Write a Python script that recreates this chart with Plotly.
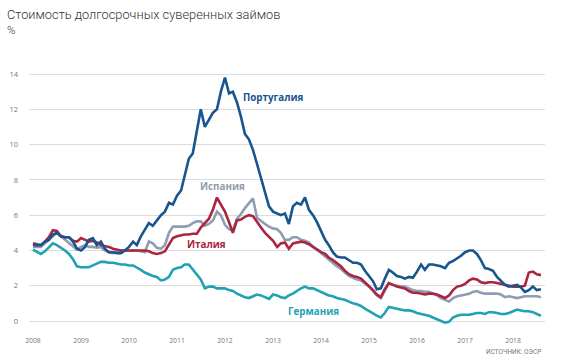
import plotly.graph_objects as go
import pandas as pd

dates = pd.date_range("2008-01-01", periods=128, freq="MS")

portugal = [
    4.3, 4.3, 4.3, 4.5, 4.6, 4.9, 5.0, 4.8, 4.75, 4.75, 4.5, 4.1,
    4.0, 4.2, 4.6, 4.7, 4.3, 4.5, 4.1, 3.9, 3.9, 3.85, 3.85, 4.0,
    4.2, 4.5, 4.3, 4.8, 5.2, 5.55, 5.4, 5.7, 6.0, 6.2, 6.7, 6.6,
    7.1, 7.4, 8.2, 9.2, 9.5, 10.8, 12.0, 11.0, 11.4, 11.8, 12.0, 13.0,
    13.8, 12.9, 13.0, 12.4, 11.6, 10.6, 10.3, 9.7, 8.9, 8.1, 7.3, 6.5,
    6.2, 6.1, 6.0, 6.1, 5.5, 6.5, 6.7, 6.6, 7.0, 6.3, 6.0, 5.6,
    5.1, 4.6, 4.3, 3.9, 3.65, 3.6, 3.6, 3.45, 3.3, 3.3, 3.2, 2.85,
    2.55, 2.25, 1.8, 1.85, 2.4, 2.9, 2.75, 2.55, 2.5, 2.4, 2.5, 2.45,
    2.8, 3.2, 2.9, 3.2, 3.2, 3.15, 3.1, 3.0, 3.3, 3.4, 3.55, 3.7,
    3.9, 4.0, 4.0, 3.8, 3.45, 3.0, 2.95, 2.85, 2.5, 2.25, 2.05, 1.95,
    2.0, 2.05, 1.9, 1.65, 1.75, 1.95, 1.75, 1.8,
]
italy = [
    4.4, 4.35, 4.3, 4.5, 4.75, 5.15, 5.1, 4.8, 4.75, 4.75, 4.55, 4.5,
    4.7, 4.6, 4.5, 4.55, 4.45, 4.3, 4.25, 4.2, 4.1, 4.05, 4.0, 4.0,
    4.0, 4.0, 4.0, 4.0, 4.0, 3.95, 3.85, 3.8, 3.85, 3.95, 4.3, 4.7,
    4.8, 4.85, 4.9, 4.9, 4.95, 4.95, 5.3, 5.55, 5.8, 6.3, 7.0, 6.6,
    6.2, 5.6, 5.0, 5.7, 5.75, 5.9, 6.0, 5.95, 5.6, 5.3, 5.0, 4.8,
    4.55, 4.2, 4.4, 4.45, 4.1, 4.4, 4.45, 4.5, 4.45, 4.35, 4.2, 4.05,
    3.9, 3.8, 3.6, 3.45, 3.3, 3.1, 2.85, 2.65, 2.55, 2.5, 2.4, 2.2,
    2.0, 1.75, 1.5, 1.35, 1.8, 2.15, 2.05, 1.95, 1.9, 1.85, 1.7, 1.6,
    1.6, 1.55, 1.5, 1.55, 1.55, 1.5, 1.4, 1.3, 1.45, 1.75, 1.95, 2.0,
    2.1, 2.3, 2.4, 2.35, 2.2, 2.15, 2.2, 2.2, 2.15, 2.1, 2.05, 2.0,
    1.95, 1.95, 1.95, 2.0, 2.75, 2.8, 2.65, 2.6,
]
spain = [
    4.2, 4.2, 4.2, 4.4, 4.6, 4.85, 5.0, 4.8, 4.6, 4.45, 4.2, 4.05,
    4.2, 4.3, 4.2, 4.2, 4.15, 4.2, 4.0, 3.9, 3.85, 3.9, 4.0, 4.0,
    4.0, 4.0, 4.0, 3.95, 3.9, 4.5, 4.4, 4.15, 4.1, 4.3, 5.0, 5.35,
    5.35, 5.35, 5.35, 5.4, 5.55, 5.65, 5.65, 5.4, 5.5, 5.7, 6.2, 6.0,
    5.45, 5.2, 5.1, 5.8, 6.05, 6.4, 6.7, 6.95, 5.85, 5.65, 5.5, 5.35,
    5.25, 5.2, 5.0, 4.6, 4.6, 4.75, 4.75, 4.6, 4.55, 4.45, 4.2, 4.05,
    3.85, 3.65, 3.45, 3.3, 3.1, 2.95, 2.75, 2.55, 2.45, 2.35, 2.3, 2.15,
    1.95, 1.7, 1.45, 1.3, 1.75, 2.15, 2.05, 2.0, 1.95, 1.95, 1.85, 1.75,
    1.7, 1.7, 1.65, 1.65, 1.55, 1.45, 1.3, 1.2, 1.1, 1.3, 1.4, 1.45,
    1.5, 1.55, 1.65, 1.7, 1.6, 1.55, 1.55, 1.55, 1.55, 1.5, 1.35, 1.4,
    1.35, 1.3, 1.35, 1.4, 1.4, 1.4, 1.4, 1.35,
]
germany = [
    4.05, 3.9, 3.8, 3.95, 4.2, 4.4, 4.3, 4.15, 4.0, 3.8, 3.5, 3.1,
    3.05, 3.05, 3.05, 3.15, 3.25, 3.35, 3.35, 3.3, 3.3, 3.25, 3.2, 3.2,
    3.15, 3.15, 3.05, 2.9, 2.75, 2.65, 2.55, 2.5, 2.3, 2.35, 2.5, 2.9,
    3.0, 3.05, 3.2, 3.2, 2.9, 2.6, 2.35, 1.85, 1.95, 1.95, 1.85, 1.85,
    1.85, 1.75, 1.7, 1.55, 1.45, 1.35, 1.3, 1.4, 1.5, 1.45, 1.35, 1.25,
    1.5, 1.45, 1.35, 1.3, 1.45, 1.55, 1.7, 1.85, 1.95, 1.85, 1.85, 1.75,
    1.65, 1.55, 1.45, 1.4, 1.3, 1.25, 1.2, 1.1, 1.0, 0.95, 0.85, 0.7,
    0.55, 0.45, 0.3, 0.2, 0.45, 0.8, 0.75, 0.7, 0.65, 0.6, 0.6, 0.55,
    0.45, 0.4, 0.35, 0.3, 0.2, 0.1, 0.0, -0.1, -0.05, 0.2, 0.3, 0.35,
    0.35, 0.35, 0.4, 0.45, 0.45, 0.4, 0.5, 0.5, 0.45, 0.4, 0.4, 0.45,
    0.55, 0.65, 0.6, 0.55, 0.55, 0.5, 0.4, 0.3,
]

series_names = ["Португалия", "Испания", "Италия", "Германия"]
year_ticks = [str(y) for y in range(2008, 2019)]
y_ticks = [0, 2, 4, 6, 8, 10, 12, 14]

colors = {
    "Португалия": "#17558f",
    "Испания": "#8f9cb2",
    "Италия": "#a92540",
    "Германия": "#1fa3b3",
}
values = {
    "Португалия": portugal,
    "Испания": spain,
    "Италия": italy,
    "Германия": germany,
}

fig = go.Figure()
for name in ["Германия", "Испания", "Италия", "Португалия"]:
    fig.add_trace(go.Scatter(
        x=dates, y=values[name], mode="lines", name=name,
        line=dict(color=colors[name], width=2.6),
        hoverinfo="skip",
    ))

label_pos = {
    "Португалия": ("2013-01-08", 12.65),
    "Испания": ("2011-12-15", 7.6),
    "Италия": ("2011-08-15", 4.35),
    "Германия": ("2013-11-01", 0.55),
}
for name in series_names:
    xx, yy = label_pos[name]
    fig.add_annotation(x=xx, y=yy, text="<b>" + name + "</b>", showarrow=False,
                       font=dict(family="Open Sans", size=9.8, color=colors[name]))

fig.add_annotation(xref="paper", yref="paper", x=-0.0465, y=1.170, xanchor="left",
                   yanchor="middle", showarrow=False,
                   text="Стоимость долгосрочных суверенных займов",
                   font=dict(family="Roboto", size=12.8, color="#333333", weight=300))
fig.add_annotation(xref="paper", yref="paper", x=-0.0465, y=1.115, xanchor="left",
                   yanchor="middle", showarrow=False, text="%",
                   font=dict(family="Roboto", size=11.5, color="#333333", weight=300))
fig.add_annotation(xref="paper", yref="paper", x=0.996, y=-0.102, xanchor="right",
                   yanchor="middle", showarrow=False, text="ИСТОЧНИК: ОЭСР",
                   font=dict(family="Roboto", size=6.5, color="#777777"))

fig.update_layout(
    width=570, height=362,
    margin=dict(l=29, r=25, t=60, b=37, autoexpand=False),
    paper_bgcolor="white", plot_bgcolor="white",
    showlegend=False,
    xaxis=dict(
        range=["2007-12-02", "2018-09-01"],
        tickvals=[f"{y}-01-01" for y in year_ticks], ticktext=year_ticks,
        showgrid=False, zeroline=False, showline=False, ticks="",
        tickfont=dict(family="Open Sans", size=6.8, color="#777777"),
        ticklabelstandoff=10, automargin=False,
    ),
    yaxis=dict(
        range=[-0.227, 14.796],
        tickvals=y_ticks, ticktext=[str(v) for v in y_ticks],
        showgrid=True, gridcolor="#dcdcdc", gridwidth=1,
        zeroline=False, showline=False, ticks="",
        tickfont=dict(family="Open Sans", size=7.5, color="#777777"),
        ticklabelstandoff=10, automargin=False,
    ),
)

fig.write_html(
    "out.html",
    config={"displayModeBar": False},
    post_script="document.body.style.margin='0';document.body.style.overflow='hidden';",
)
